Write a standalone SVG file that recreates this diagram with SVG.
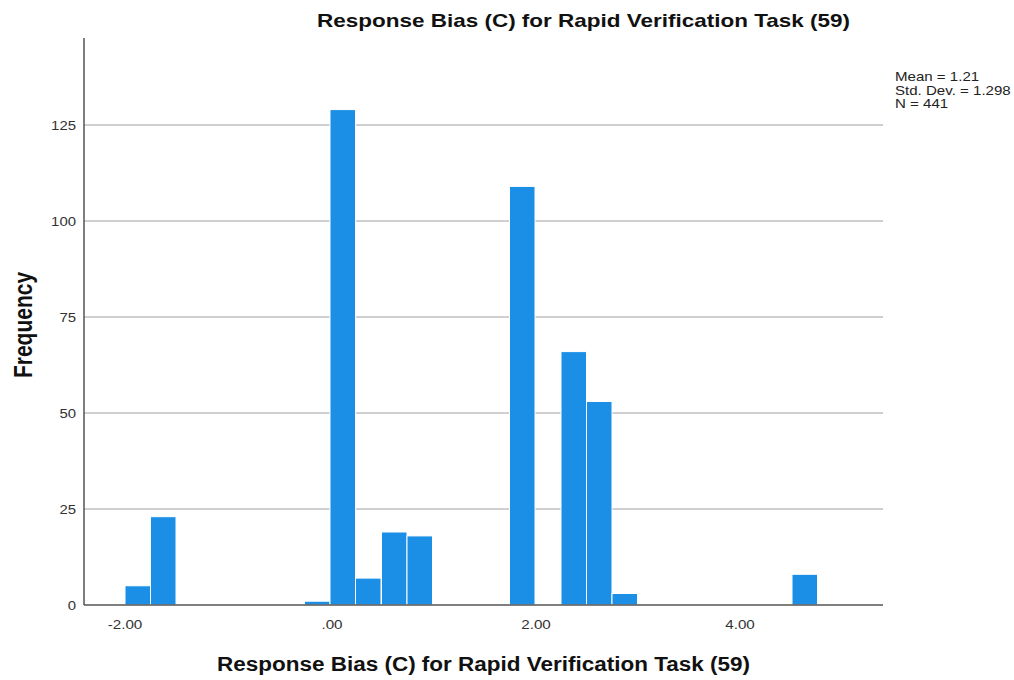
<svg xmlns="http://www.w3.org/2000/svg" width="1014" height="680" viewBox="0 0 1014 680">
<style>
.grid{stroke:#cfcfcf;stroke-width:2}
.axis{stroke:#555;stroke-width:1.5;fill:none}
.bar{fill:#1b8fe6;stroke:#fff;stroke-width:1}
.tick{font-family:"Liberation Sans",Arial,sans-serif;font-size:13px;fill:#333}
.ylab{text-anchor:end}
.xlab{text-anchor:middle}
.title{font-family:"Liberation Sans",Arial,sans-serif;font-weight:bold;fill:#111;text-anchor:middle}
.stat{font-family:"Liberation Sans",Arial,sans-serif;font-size:13px;fill:#222}
</style>
<rect width="1014" height="680" fill="#fff"/>
<g id="grid">
<line class="grid" x1="84" y1="509" x2="883" y2="509"/>
<line class="grid" x1="84" y1="413" x2="883" y2="413"/>
<line class="grid" x1="84" y1="317" x2="883" y2="317"/>
<line class="grid" x1="84" y1="221" x2="883" y2="221"/>
<line class="grid" x1="84" y1="125" x2="883" y2="125"/>
</g>
<g id="bars">
<rect class="bar" x="125" y="585.8" width="25.5" height="19.2"/>
<rect class="bar" x="150.5" y="516.7" width="25.5" height="88.3"/>
<rect class="bar" x="304.5" y="601.2" width="25.5" height="3.8"/>
<rect class="bar" x="330" y="109.6" width="25.5" height="495.4"/>
<rect class="bar" x="355.5" y="578.1" width="25.5" height="26.9"/>
<rect class="bar" x="381.5" y="532.0" width="25.5" height="73"/>
<rect class="bar" x="407" y="535.9" width="25.5" height="69.1"/>
<rect class="bar" x="509.5" y="186.4" width="25.5" height="418.6"/>
<rect class="bar" x="561" y="351.6" width="25.5" height="253.4"/>
<rect class="bar" x="586.5" y="401.5" width="25.5" height="203.5"/>
<rect class="bar" x="612" y="593.5" width="25.5" height="11.5"/>
<rect class="bar" x="792" y="574.3" width="25.5" height="30.7"/>
</g>
<g id="axes">
<line class="axis" x1="84" y1="38" x2="84" y2="605"/>
<line class="axis" x1="84" y1="605" x2="883" y2="605"/>
</g>
<g id="yticks">
<text class="tick ylab" transform="translate(76,610) scale(1.15,1)">0</text>
<text class="tick ylab" transform="translate(76,514) scale(1.15,1)">25</text>
<text class="tick ylab" transform="translate(76,418) scale(1.15,1)">50</text>
<text class="tick ylab" transform="translate(76,322) scale(1.15,1)">75</text>
<text class="tick ylab" transform="translate(76,226) scale(1.15,1)">100</text>
<text class="tick ylab" transform="translate(76,130) scale(1.15,1)">125</text>
</g>
<g id="xticks">
<text class="tick xlab" transform="translate(125,629) scale(1.17,1)">-2.00</text>
<text class="tick xlab" transform="translate(332,629) scale(1.17,1)">.00</text>
<text class="tick xlab" transform="translate(536,629) scale(1.17,1)">2.00</text>
<text class="tick xlab" transform="translate(740,629) scale(1.17,1)">4.00</text>
</g>
<g id="titles">
<text class="title" x="583.5" y="27" font-size="18.5" textLength="533" lengthAdjust="spacingAndGlyphs">Response Bias (C) for Rapid Verification Task (59)</text>
<text class="title" x="483.5" y="671" font-size="20" textLength="533" lengthAdjust="spacingAndGlyphs">Response Bias (C) for Rapid Verification Task (59)</text>
<text class="title" font-size="21" transform="translate(32,325) scale(1.2,1) rotate(-90)">Frequency</text>
</g>
<g id="stats">
<text class="stat" transform="translate(895,81) scale(1.16,1)">Mean = 1.21</text>
<text class="stat" transform="translate(895,95) scale(1.16,1)">Std. Dev. = 1.298</text>
<text class="stat" transform="translate(895,108) scale(1.16,1)">N = 441</text>
</g>
</svg>
